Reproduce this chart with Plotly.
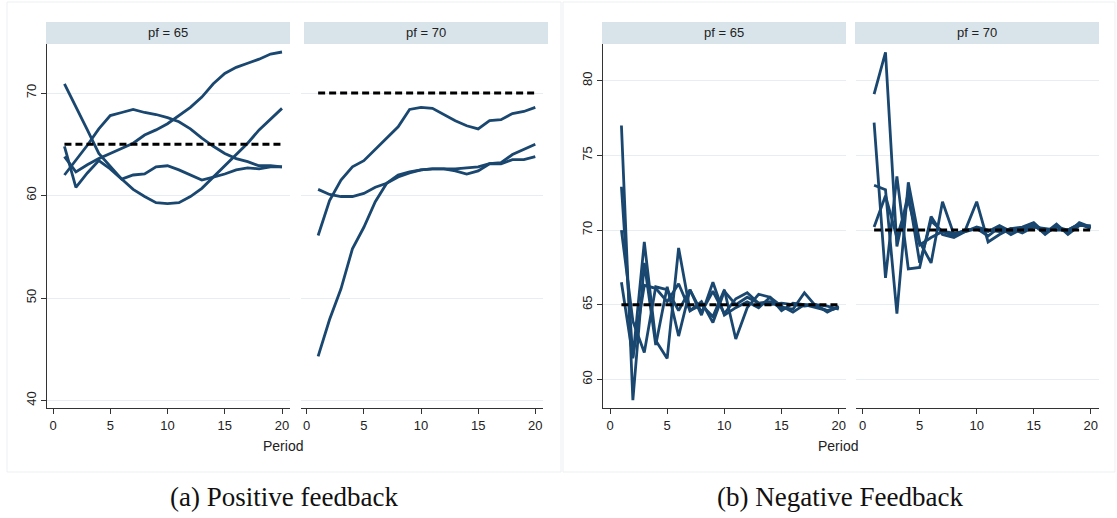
import plotly.graph_objects as go

# ---------------- data ----------------
periods = list(range(1, 21))
pf_levels = [65, 70]
ref_span = [1, 20]

# (a) Positive feedback, pf = 65
pos65_a = [70.9, 68.7, 66.4, 64.1, 62.9, 61.6, 60.6, 59.9, 59.3, 59.2, 59.3, 59.9, 60.7, 61.8, 63.0, 64.0, 65.1, 66.4, 67.5, 68.5]
pos65_b = [64.8, 60.8, 62.2, 63.4, 62.6, 61.6, 62.0, 62.1, 62.8, 62.9, 62.5, 62.0, 61.5, 61.8, 62.1, 62.5, 62.7, 62.6, 62.8, 62.8]
pos65_c = [62.0, 63.4, 64.9, 66.5, 67.8, 68.1, 68.4, 68.1, 67.9, 67.6, 67.2, 66.5, 65.6, 64.8, 64.1, 63.6, 63.3, 62.9, 62.9, 62.8]
pos65_d = [63.8, 62.3, 63.0, 63.6, 64.1, 64.6, 65.1, 65.9, 66.4, 67.0, 67.8, 68.6, 69.6, 70.9, 71.9, 72.5, 72.9, 73.3, 73.8, 74.0]

# (a) Positive feedback, pf = 70
pos70_a = [56.1, 59.5, 61.5, 62.8, 63.4, 64.5, 65.6, 66.7, 68.4, 68.6, 68.5, 67.9, 67.3, 66.8, 66.5, 67.3, 67.4, 68.0, 68.2, 68.6]
pos70_b = [60.6, 60.1, 59.9, 59.9, 60.2, 60.8, 61.2, 61.8, 62.2, 62.5, 62.6, 62.6, 62.4, 62.1, 62.4, 63.1, 63.1, 63.5, 63.5, 63.8]
pos70_c = [44.3, 47.9, 50.9, 54.8, 56.9, 59.4, 61.2, 62.0, 62.3, 62.5, 62.6, 62.6, 62.6, 62.7, 62.8, 63.1, 63.2, 64.0, 64.5, 65.0]

# (b) Negative feedback, pf = 65
neg65_a = [77.0, 58.6, 67.8, 62.3, 66.2, 62.9, 66.0, 64.5, 65.9, 64.4, 65.4, 65.8, 65.1, 65.2, 64.8, 64.7, 65.8, 64.9, 64.6, 64.8]
neg65_b = [72.9, 61.4, 69.2, 62.6, 61.4, 68.8, 64.6, 65.0, 64.2, 66.0, 62.7, 64.8, 65.7, 65.5, 64.6, 65.1, 65.0, 65.0, 64.9, 64.7]
neg65_c = [70.0, 63.9, 61.8, 66.2, 66.0, 64.6, 66.0, 64.3, 66.5, 64.3, 64.8, 65.2, 64.8, 65.5, 64.9, 64.5, 65.0, 64.8, 64.6, 64.8]
neg65_d = [66.5, 61.5, 66.3, 66.1, 65.2, 66.4, 64.6, 65.2, 63.8, 65.9, 65.0, 65.5, 65.1, 65.0, 65.1, 65.0, 64.9, 65.0, 64.5, 64.9]

# (b) Negative feedback, pf = 70
neg70_a = [79.1, 81.9, 68.9, 72.5, 67.8, 70.6, 69.9, 69.6, 70.0, 70.1, 69.9, 70.3, 69.9, 70.0, 70.3, 69.8, 70.2, 70.0, 70.4, 70.2]
neg70_b = [77.2, 66.8, 73.6, 67.4, 67.5, 70.9, 69.7, 69.5, 69.9, 70.2, 70.0, 69.9, 70.1, 70.2, 70.5, 69.8, 70.4, 69.7, 70.3, 70.3]
neg70_c = [73.0, 72.7, 64.4, 73.2, 69.2, 67.8, 71.9, 69.7, 70.0, 71.9, 69.2, 69.7, 70.1, 69.8, 70.2, 70.1, 70.0, 70.0, 70.4, 70.1]
neg70_d = [70.2, 72.3, 69.5, 72.0, 69.0, 69.5, 69.9, 69.8, 69.9, 70.1, 69.6, 70.2, 69.7, 70.1, 70.4, 69.7, 70.3, 69.8, 70.5, 70.2]

x_ticks = [0, 5, 10, 15, 20]
pos_y_ticks = [40, 50, 60, 70]
neg_y_ticks = [60, 65, 70, 75, 80]
panel_titles = ["pf = 65", "pf = 70", "pf = 65", "pf = 70"]
x_title = "Period"
captions = ["(a) Positive feedback", "(b) Negative Feedback"]

# ---------------- styling ----------------
W, H = 1117, 518
NAVY = "#1a476f"
GRID = "#e6eef1"
HEADER = "#d9e4ea"
SANS = "Liberation Sans Narrow, Liberation Sans, Arial, sans-serif"
SERIF = "Liberation Serif, DejaVu Serif, serif"

def fx(px):
    return px / W

def fy(py):
    return 1 - py / H

fig = go.Figure()

panels = [
    dict(series=[pos65_a, pos65_b, pos65_c, pos65_d], ref=pf_levels[0]),
    dict(series=[pos70_a, pos70_b, pos70_c], ref=pf_levels[1]),
    dict(series=[neg65_a, neg65_b, neg65_c, neg65_d], ref=pf_levels[0]),
    dict(series=[neg70_a, neg70_b, neg70_c, neg70_d], ref=pf_levels[1]),
]

for i, p in enumerate(panels):
    ax = "" if i == 0 else str(i + 1)
    for s in p["series"]:
        fig.add_trace(go.Scatter(x=periods, y=s, mode="lines",
                                 line=dict(color=NAVY, width=2.8),
                                 xaxis="x" + ax, yaxis="y" + ax,
                                 showlegend=False, hoverinfo="skip"))
    fig.add_trace(go.Scatter(x=ref_span, y=[p["ref"], p["ref"]], mode="lines",
                             line=dict(color="black", width=3, dash="7px,4px"),
                             xaxis="x" + ax, yaxis="y" + ax,
                             showlegend=False, hoverinfo="skip"))

# plot-area geometry in pixels: (left, right), shared top/bottom
plot_x = [(47, 290), (301, 543), (603, 846), (856, 1099)]
x_zero_px = [53, 306.7, 610, 862.7]
x_scale = [11.45, 11.43, 11.435, 11.4]
TOP, BOT = 44, 408
pos_yr = [70 - (BOT - 93) / 10.25, 70 + (93 - TOP) / 10.25]
neg_yr = [65 - (BOT - 304.7) / 14.93, 65 + (304.7 - TOP) / 14.93]

tickfont = dict(family=SANS, size=13, color="#222222")
layout_axes = {}
for i in range(4):
    l, r = plot_x[i]
    x0, sc = x_zero_px[i], x_scale[i]
    key = "" if i == 0 else str(i + 1)
    layout_axes["xaxis" + key] = dict(
        domain=[fx(l), fx(r)], range=[(l - x0) / sc, (r - x0) / sc],
        tickvals=x_ticks, ticks="outside", ticklen=5, tickcolor="#333333",
        showline=True, linecolor="#333333", linewidth=1, showgrid=False,
        zeroline=False, tickfont=tickfont, anchor="y" + key, fixedrange=True)
    is_pos = i < 2
    first = i in (0, 2)
    layout_axes["yaxis" + key] = dict(
        domain=[fy(BOT), fy(TOP)], range=pos_yr if is_pos else neg_yr,
        tickvals=pos_y_ticks if is_pos else neg_y_ticks,
        showgrid=True, gridcolor=GRID, gridwidth=1.2, zeroline=False,
        showline=first, linecolor="#333333", linewidth=1,
        ticks="outside" if first else "", ticklen=5, tickcolor="#333333",
        showticklabels=first, tickangle=-90, tickfont=tickfont,
        anchor="x" + key, fixedrange=True)

shapes = []
annotations = []
# outer frames of the two sub-figures
for (l, r) in [(7, 561), (563, 1115)]:
    shapes.append(dict(type="rect", xref="paper", yref="paper",
                       x0=fx(l), x1=fx(r), y0=fy(472), y1=fy(2),
                       line=dict(color="#eceff1", width=1), fillcolor="rgba(0,0,0,0)",
                       layer="below"))
# panel headers
headers = [(46, 290), (304, 548), (602, 846), (855, 1099)]
for (l, r), t in zip(headers, panel_titles):
    shapes.append(dict(type="rect", xref="paper", yref="paper",
                       x0=fx(l), x1=fx(r), y0=fy(44), y1=fy(22),
                       line=dict(width=0), fillcolor=HEADER, layer="below"))
    annotations.append(dict(text=t, x=fx((l + r) / 2), y=fy(33), xref="paper", yref="paper",
                            showarrow=False, xanchor="center", yanchor="middle",
                            font=dict(family=SANS, size=13, color="#222222")))
# x-axis titles
for cx in [283, 838]:
    annotations.append(dict(text=x_title, x=fx(cx), y=fy(446), xref="paper", yref="paper",
                            showarrow=False, xanchor="center", yanchor="middle",
                            font=dict(family=SANS, size=14, color="#222222")))
# captions
for cx, t in zip([284, 840], captions):
    annotations.append(dict(text=t, x=fx(cx), y=fy(497), xref="paper", yref="paper",
                            showarrow=False, xanchor="center", yanchor="middle",
                            font=dict(family=SERIF, size=27, color="#111111")))

fig.update_layout(
    width=W, height=H, margin=dict(l=0, r=0, t=0, b=0),
    paper_bgcolor="white", plot_bgcolor="white",
    shapes=shapes, annotations=annotations, **layout_axes)

fig.write_html("out.html", config={"displayModeBar": False},
               post_script="document.body.style.margin='0px';document.body.style.padding='0px';")
